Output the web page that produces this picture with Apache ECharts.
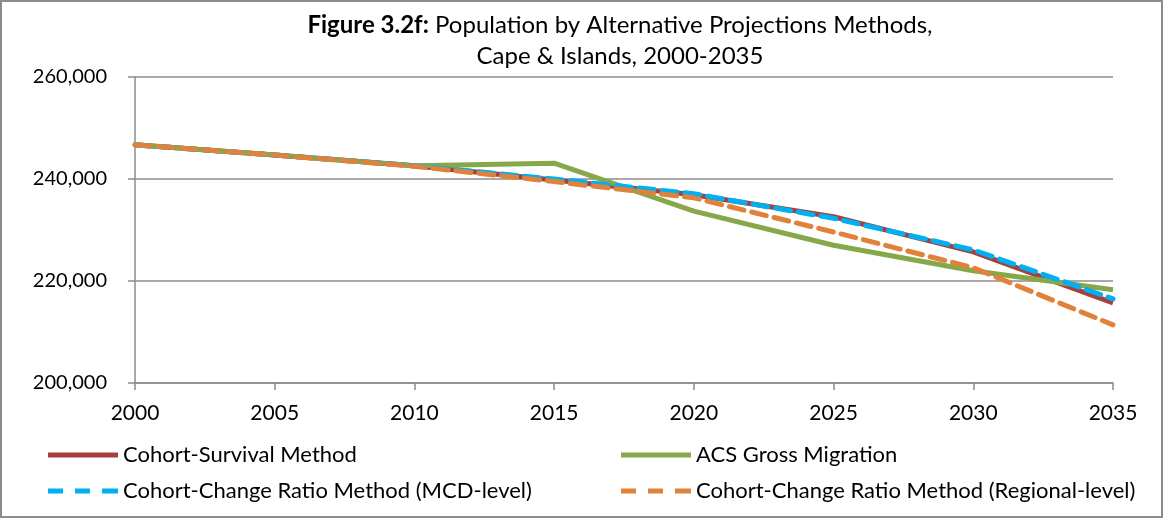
<!DOCTYPE html>
<html>
<head>
<meta charset="utf-8">
<script src="https://cdn.jsdelivr.net/npm/echarts@6/dist/echarts.min.js"></script>
<style>
  html, body { margin: 0; padding: 0; background: #fff; }
  #chart { width: 1163px; height: 520px; }
</style>
</head>
<body>
<div id="chart"></div>
<script>
// years on the x axis
const years = ['2000', '2005', '2010', '2015', '2020', '2025', '2030', '2035'];

// population estimates
const cohortSurvival = [246700, 244700, 242600, 239800, 236900, 232600, 225700, 215700];
const acsMigration = [246700, 244700, 242600, 243100, 233700, 227000, 222000, 218300];
const ccrMcd = [246700, 244700, 242600, 240000, 237100, 232300, 226100, 216500];
const ccrRegional = [246700, 244700, 242500, 239500, 236300, 229600, 222600, 211400];

const FONT = 'Lato, "Open Sans", sans-serif';
const SOLID_ICON = 'path://M0,0H70V5H0Z';
const DASH_ICON = 'path://M0,0H15V5H0Z M27,0H42V5H27Z M54,0H70V5H54Z';

const chart = echarts.init(document.getElementById('chart'));

const legendBase = {
  itemWidth: 70,
  itemHeight: 5,
  padding: 0,
  textStyle: { fontFamily: FONT, fontSize: 22, color: '#000' },
  itemStyle: { borderWidth: 0 },
  selectedMode: false
};

chart.setOption({
  animation: false,
  backgroundColor: '#fff',
  title: {
    text: '{b|Figure 3.2f:} Population by Alternative Projections Methods,\nCape & Islands, 2000-2035',
    left: 615,
    top: 5,
    textAlign: 'center',
    textStyle: {
      fontFamily: FONT,
      fontSize: 24,
      fontWeight: 'normal',
      color: '#000',
      lineHeight: 31,
      rich: {
        b: { fontFamily: FONT, fontSize: 24, fontWeight: 'bold', color: '#000', lineHeight: 31 }
      }
    }
  },
  graphic: [{
    type: 'rect',
    shape: { x: 1, y: 1, width: 1161, height: 516 },
    style: { fill: 'none', stroke: '#8c8c8c', lineWidth: 2 },
    silent: true
  }],
  legend: [
    Object.assign({}, legendBase, { data: ['Cohort-Survival Method'], icon: SOLID_ICON, left: 48, top: 444 }),
    Object.assign({}, legendBase, { data: ['ACS Gross Migration'], icon: SOLID_ICON, left: 621, top: 444 }),
    Object.assign({}, legendBase, { data: ['Cohort-Change Ratio Method (MCD-level)'], icon: DASH_ICON, left: 48, top: 480 }),
    Object.assign({}, legendBase, { data: ['Cohort-Change Ratio Method (Regional-level)'], icon: DASH_ICON, left: 621, top: 480 })
  ],
  grid: { left: 135, right: 50, top: 77, bottom: 137, containLabel: false },
  xAxis: {
    type: 'category',
    data: years,
    boundaryGap: false,
    axisLine: { lineStyle: { color: '#8c8c8c', width: 1.5 } },
    axisTick: { show: true, length: 7, lineStyle: { color: '#8c8c8c', width: 1.5 } },
    axisLabel: { fontFamily: FONT, fontSize: 21, color: '#000', margin: 20 },
    splitLine: { show: false }
  },
  yAxis: {
    type: 'value',
    min: 200000,
    max: 260000,
    interval: 20000,
    axisLine: { show: true, lineStyle: { color: '#8c8c8c', width: 1.5 } },
    axisTick: { show: true, length: 7, lineStyle: { color: '#8c8c8c', width: 1.5 } },
    axisLabel: {
      fontFamily: FONT, fontSize: 20, color: '#000', margin: 28,
      formatter: v => v.toLocaleString('en-US')
    },
    splitLine: { lineStyle: { color: '#8c8c8c', width: 1.5 } }
  },
  series: [
    {
      name: 'Cohort-Survival Method',
      type: 'line',
      data: cohortSurvival,
      symbol: 'none',
      itemStyle: { color: '#A5403C' },
      lineStyle: { color: '#A5403C', width: 5 },
      z: 2
    },
    {
      name: 'ACS Gross Migration',
      type: 'line',
      data: acsMigration,
      symbol: 'none',
      itemStyle: { color: '#86A84A' },
      lineStyle: { color: '#86A84A', width: 5 },
      z: 3
    },
    {
      name: 'Cohort-Change Ratio Method (MCD-level)',
      type: 'line',
      data: ccrMcd,
      symbol: 'none',
      itemStyle: { color: '#00B0F0' },
      lineStyle: { color: '#00B0F0', width: 5, type: [15, 8], cap: 'round' },
      z: 4
    },
    {
      name: 'Cohort-Change Ratio Method (Regional-level)',
      type: 'line',
      data: ccrRegional,
      symbol: 'none',
      itemStyle: { color: '#E0823A' },
      lineStyle: { color: '#E0823A', width: 5, type: [15, 8], cap: 'round' },
      z: 5
    }
  ]
});
</script>
</body>
</html>
